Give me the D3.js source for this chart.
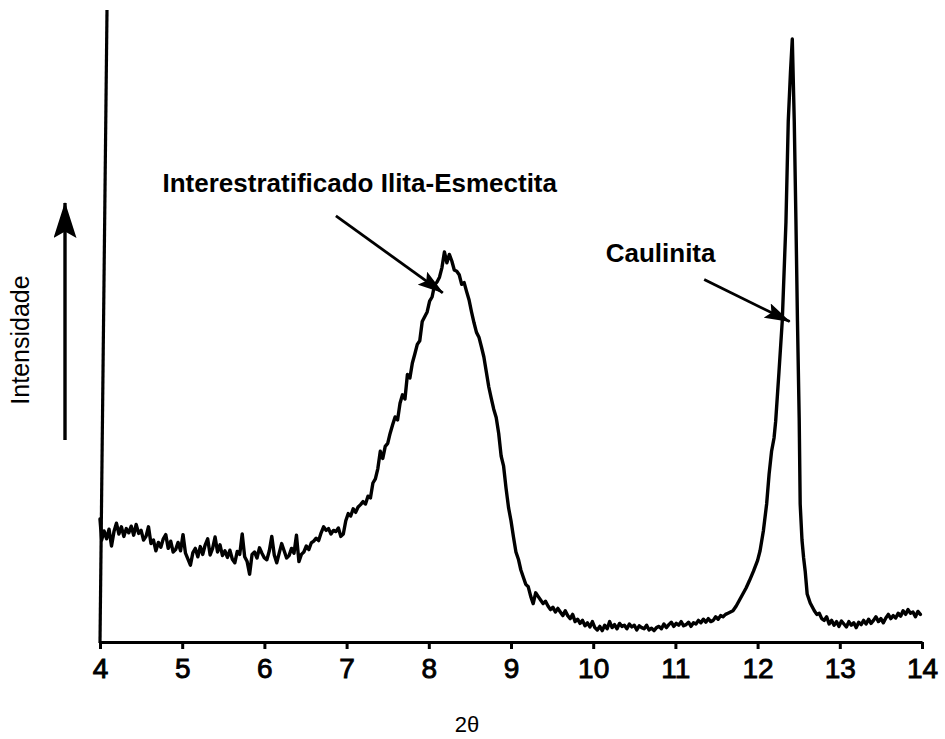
<!DOCTYPE html>
<html>
<head>
<meta charset="utf-8">
<script src="https://cdn.jsdelivr.net/npm/d3@7"></script>
<style>
  html, body { margin: 0; padding: 0; background: #fff; }
  svg { display: block; }
</style>
</head>
<body>
<div id="chart"></div>
<script>
// ---- data ----
const twoTheta = [
  4.00,4.02,4.05,4.08,4.11,4.14,4.17,4.20,4.23,4.26,
  4.29,4.32,4.35,4.38,4.41,4.44,4.47,4.50,4.53,4.56,
  4.59,4.62,4.65,4.68,4.71,4.74,4.77,4.80,4.83,4.86,
  4.89,4.92,4.95,4.98,5.01,5.04,5.07,5.10,5.13,5.16,
  5.19,5.22,5.25,5.28,5.31,5.34,5.37,5.40,5.43,5.46,
  5.49,5.52,5.55,5.58,5.61,5.64,5.67,5.70,5.73,5.76,
  5.79,5.82,5.85,5.88,5.91,5.94,5.97,6.00,6.03,6.06,
  6.09,6.12,6.15,6.18,6.21,6.24,6.27,6.30,6.33,6.36,
  6.39,6.42,6.45,6.48,6.51,6.54,6.57,6.60,6.63,6.66,
  6.69,6.72,6.75,6.78,6.81,6.84,6.87,6.90,6.93,6.96,
  6.99,7.02,7.05,7.08,7.11,7.14,7.17,7.20,7.23,7.26,
  7.29,7.32,7.35,7.38,7.41,7.44,7.47,7.50,7.53,7.56,
  7.59,7.62,7.65,7.68,7.71,7.74,7.77,7.80,7.83,7.86,
  7.89,7.92,7.95,7.98,8.01,8.04,8.07,8.10,8.13,8.16,
  8.19,8.22,8.25,8.28,8.31,8.34,8.37,8.40,8.43,8.46,
  8.49,8.52,8.55,8.58,8.61,8.64,8.67,8.70,8.73,8.76,
  8.79,8.82,8.85,8.88,8.91,8.94,8.97,9.00,9.03,9.06,
  9.09,9.12,9.15,9.18,9.21,9.24,9.27,9.30,9.33,9.36,
  9.39,9.42,9.45,9.48,9.51,9.54,9.57,9.60,9.63,9.66,
  9.69,9.72,9.75,9.78,9.81,9.84,9.87,9.90,9.93,9.96,
  9.99,10.02,10.05,10.08,10.11,10.14,10.17,10.20,10.23,10.26,
  10.29,10.32,10.35,10.38,10.41,10.44,10.47,10.50,10.53,10.56,
  10.59,10.62,10.65,10.68,10.71,10.74,10.77,10.80,10.83,10.86,
  10.89,10.92,10.95,10.98,11.01,11.04,11.07,11.10,11.13,11.16,
  11.19,11.22,11.25,11.28,11.31,11.34,11.37,11.40,11.43,11.46,
  11.49,11.52,11.55,11.58,11.61,11.64,11.67,11.70,11.74,11.78,
  11.82,11.86,11.90,11.95,12.00,12.03,12.07,12.11,12.14,12.17,
  12.20,12.22,12.26,12.30,12.345,12.373,12.40,12.422,12.446,12.466,
  12.485,12.506,12.518,12.54,12.56,12.579,12.603,12.64,12.69,12.72,
  12.75,12.78,12.81,12.84,12.87,12.90,12.93,12.96,12.99,13.02,
  13.05,13.08,13.11,13.14,13.17,13.20,13.23,13.26,13.29,13.32,
  13.35,13.38,13.41,13.44,13.47,13.50,13.53,13.56,13.59,13.62,
  13.65,13.68,13.71,13.74,13.77,13.80,13.83,13.86,13.89,13.92,
  13.95,13.98
];
const intensity = [
  20.5,17.0,18.5,17.2,18.8,16.0,18.4,19.8,18.0,19.2,
  17.6,18.9,18.2,19.3,17.8,19.6,18.1,18.6,17.0,17.6,
  19.2,16.4,17.0,15.2,16.6,15.8,17.2,17.9,15.6,16.8,
  15.0,15.4,16.6,15.2,17.9,14.8,13.8,12.8,14.9,15.6,
  14.2,15.9,14.6,16.2,17.2,14.5,15.6,17.5,15.0,16.2,
  14.4,15.2,14.1,15.3,13.8,13.2,15.1,14.6,18.0,14.2,
  13.4,11.3,14.6,15.0,14.0,15.7,14.8,14.0,13.7,15.2,
  17.6,14.5,13.2,14.8,16.4,15.2,14.0,14.4,15.6,14.8,
  17.8,13.4,14.6,15.0,16.0,15.4,16.5,16.8,17.3,16.9,
  18.2,19.2,18.6,18.9,18.0,18.6,18.4,19.0,17.6,18.0,
  20.2,21.4,21.0,22.2,21.6,22.5,22.9,23.4,23.0,24.3,
  24.0,26.5,27.2,28.9,31.8,30.6,32.6,33.1,34.8,36.2,
  37.5,37.0,39.8,41.2,40.5,44.6,44.0,46.5,48.0,49.6,
  50.2,53.4,54.2,55.0,56.8,57.5,59.5,60.0,60.8,62.4,
  65.0,63.2,64.6,63.5,62.0,61.8,61.2,59.6,59.9,58.4,
  57.0,55.0,53.2,51.6,50.8,49.2,47.5,45.0,42.5,40.6,
  38.8,37.4,34.8,31.0,29.3,25.6,22.4,20.2,17.5,15.0,
  13.8,12.0,10.8,9.6,9.2,7.6,6.4,8.2,7.6,7.0,
  6.4,6.8,6.0,5.4,5.8,5.0,5.6,5.0,4.4,5.2,
  4.4,3.9,4.6,3.4,3.8,3.1,3.6,2.7,3.2,2.5,
  3.4,2.4,2.0,2.6,1.9,2.8,2.2,3.4,2.4,2.9,
  2.2,3.1,2.6,2.8,2.2,3.0,2.5,2.8,2.0,2.7,
  2.4,2.2,2.8,2.0,2.3,1.9,2.4,2.6,2.2,3.0,
  2.4,2.9,3.3,2.6,3.1,2.8,3.4,2.7,2.9,3.3,
  2.6,3.2,3.0,3.6,3.2,3.8,3.3,3.9,3.4,3.6,
  4.2,3.8,4.4,4.2,4.6,4.8,5.0,5.2,6.0,7.0,
  8.0,9.0,10.2,11.8,13.6,15.2,18.5,23.0,28.0,31.8,
  34.0,36.8,45.0,53.5,70.0,86.8,95.0,100.5,86.8,70.5,
  53.5,37.3,23.0,17.0,14.0,11.8,8.0,6.5,5.2,4.6,
  4.8,3.9,3.6,4.2,3.0,3.6,2.8,3.4,2.6,3.5,
  3.0,2.5,3.4,2.8,3.2,2.4,3.3,2.9,3.6,3.0,
  3.8,3.1,3.6,4.2,3.4,3.9,3.2,4.0,4.6,3.9,
  4.4,4.0,4.8,4.3,5.2,4.6,5.4,4.8,5.0,4.2,
  5.1,4.6
];
const xTickValues = [4, 5, 6, 7, 8, 9, 10, 11, 12, 13, 14];
const xTickLabels = ["4", "5", "6", "7", "8", "9", "10", "11", "12", "13", "14"];

// annotations: label, text anchor (2θ, intensity), arrow tail and tip (2θ, intensity)
const annoLabels = ["Interestratificado Ilita-Esmectita", "Caulinita"];
const annoTextPos = [[7.16, 75.0], [10.82, 63.4]];
const annoArrowFrom = [[6.87, 71.0], [11.35, 60.4]];
const annoArrowTo = [[8.17, 58.2], [12.39, 53.4]];

const xTitle = "2θ";
const yTitle = "Intensidade";

// ---- drawing ----
const W = 945, H = 739;
const svg = d3.select("#chart").append("svg")
  .attr("width", W).attr("height", H)
  .attr("viewBox", `0 0 ${W} ${H}`);

const x = d3.scaleLinear().domain([4, 14]).range([100, 922]);
const y = d3.scaleLinear().domain([0, 105.33]).range([642, 10]);

const ink = "#000";
const defs = svg.append("defs");

function addMarker(id, len, wid) {
  defs.append("marker")
    .attr("id", id)
    .attr("viewBox", `0 0 ${len} ${wid}`)
    .attr("refX", len - 1).attr("refY", wid / 2)
    .attr("markerWidth", len).attr("markerHeight", wid)
    .attr("markerUnits", "userSpaceOnUse")
    .attr("preserveAspectRatio", "none")
    .attr("orient", "auto")
    .append("path")
    .attr("d", `M0,0 L${len},${wid / 2} L0,${wid} L${len * 0.18},${wid / 2} Z`)
    .attr("fill", ink);
}
addMarker("ah", 26, 16);
addMarker("ahBig", 36, 23);

// X axis
const xAxis = d3.axisBottom(x)
  .tickValues(xTickValues)
  .tickFormat((d, i) => xTickLabels[i])
  .tickSizeInner(7).tickSizeOuter(0).tickPadding(9);

const gx = svg.append("g").attr("transform", `translate(0,${y(0)})`).call(xAxis);
gx.select(".domain").attr("stroke", ink).attr("stroke-width", 3.2);
gx.selectAll(".tick line").attr("stroke", ink).attr("stroke-width", 3);
gx.selectAll(".tick text")
  .attr("fill", ink)
  .attr("stroke", ink)
  .attr("stroke-width", 0.9)
  .style("font-family", "'Liberation Sans', Arial, sans-serif")
  .style("font-size", "28px")
  .attr("dy", "0.72em");

// Y axis (plain vertical line, slightly tilted as in the scan)
svg.append("line")
  .attr("x1", x(4)).attr("y1", y(0) + 1)
  .attr("x2", x(4) + 7).attr("y2", y(105.33))
  .attr("stroke", ink).attr("stroke-width", 3.2);

// data line
const pts = twoTheta.map((t, i) => [t, intensity[i]]);
const line = d3.line().x(d => x(d[0])).y(d => y(d[1])).curve(d3.curveLinear);
svg.append("path")
  .datum(pts)
  .attr("d", line)
  .attr("fill", "none")
  .attr("stroke", ink)
  .attr("stroke-width", 3.4)
  .attr("stroke-linejoin", "round")
  .attr("stroke-linecap", "round");

// annotations
annoLabels.forEach((lab, i) => {
  svg.append("text")
    .attr("x", x(annoTextPos[i][0]))
    .attr("y", y(annoTextPos[i][1]))
    .attr("text-anchor", "middle")
    .style("font-family", "'Liberation Sans', Arial, sans-serif")
    .style("font-weight", "bold")
    .style("font-size", "26px")
    .attr("fill", ink)
    .text(lab);
  svg.append("line")
    .attr("x1", x(annoArrowFrom[i][0])).attr("y1", y(annoArrowFrom[i][1]))
    .attr("x2", x(annoArrowTo[i][0])).attr("y2", y(annoArrowTo[i][1]))
    .attr("stroke", ink).attr("stroke-width", 2.8)
    .attr("marker-end", "url(#ah)");
});

// y title and arrow
svg.append("text")
  .attr("transform", `translate(29,${340}) rotate(-90)`)
  .attr("text-anchor", "middle")
  .style("font-family", "'Liberation Sans', Arial, sans-serif")
  .style("font-size", "25px")
  .attr("fill", ink)
  .text(yTitle);

svg.append("line")
  .attr("x1", 65).attr("y1", 440)
  .attr("x2", 65).attr("y2", 203)
  .attr("stroke", ink).attr("stroke-width", 3.4)
  .attr("marker-end", "url(#ahBig)");

// x title
svg.append("text")
  .attr("x", 467).attr("y", 732)
  .attr("text-anchor", "middle")
  .style("font-family", "'Liberation Sans', Arial, sans-serif")
  .style("font-size", "22px")
  .attr("fill", ink)
  .text(xTitle);
</script>
</body>
</html>
